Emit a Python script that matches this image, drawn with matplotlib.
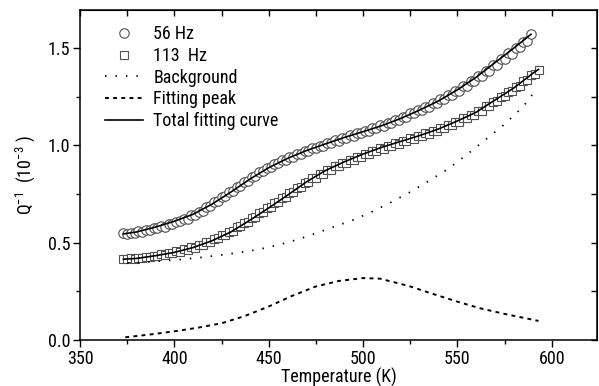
import matplotlib
matplotlib.use("Agg")
import matplotlib.pyplot as plt
from matplotlib.ticker import MultipleLocator, FormatStrFormatter
from matplotlib import font_manager

# ---------------- data ----------------
T56 = [373, 375, 377, 379, 381, 383, 385, 387, 389, 391, 393, 395, 397, 399, 401, 403,
       405, 407, 409, 411, 413, 415, 417, 419, 421, 423, 425, 427, 429, 431, 433, 435,
       437, 439, 441, 443, 445, 447, 449, 451, 453, 455, 457, 459, 461, 463, 465, 467,
       469, 471, 473, 475, 477, 479, 481, 483, 485, 487, 489, 491, 493, 495, 497, 499,
       501, 503, 505, 507, 509, 511, 513, 515, 517, 519, 521, 523, 525, 527, 529, 531,
       533, 535, 537, 539, 541, 543, 545, 547, 549, 551, 553, 555, 557, 559, 561, 563,
       565, 567, 569, 571, 573, 575, 577, 579, 581, 583, 585, 587, 589]
Q56 = [.549, .544, .551, .549, .558, .556, .564, .563, .573, .573, .584, .582, .595, .595,
       .608, .609, .623, .624, .640, .643, .660, .663, .683, .688, .708, .713, .734, .740,
       .760, .765, .787, .792, .813, .818, .839, .843, .862, .866, .885, .887, .905, .907,
       .923, .925, .941, .941, .956, .957, .971, .972, .985, .985, .999, .998, 1.012, 1.011,
       1.025, 1.024, 1.038, 1.037, 1.051, 1.050, 1.064, 1.062, 1.076, 1.075, 1.089, 1.088,
       1.102, 1.101, 1.116, 1.115, 1.131, 1.131, 1.147, 1.147, 1.164, 1.164, 1.181, 1.181,
       1.199, 1.199, 1.217, 1.217, 1.237, 1.236, 1.257, 1.257, 1.280, 1.280, 1.304, 1.303,
       1.328, 1.328, 1.354, 1.354, 1.384, 1.382, 1.412, 1.412, 1.442, 1.441, 1.472, 1.471,
       1.502, 1.503, 1.533, 1.536, 1.570]

T113 = [373, 375, 377, 379, 381, 383, 385, 387, 389, 391, 393, 395, 397, 399, 401, 403,
        405, 407, 409, 411, 413, 415, 417, 419, 421, 423, 425, 427, 429, 431, 433, 435,
        437, 439, 441, 443, 445, 447, 449, 451, 453, 455, 457, 459, 461, 463, 465, 467,
        469, 471, 473, 475, 477, 479, 481, 483, 485, 487, 489, 491, 493, 495, 497, 499,
        501, 503, 505, 507, 509, 511, 513, 515, 517, 519, 521, 523, 525, 527, 529, 531,
        533, 535, 537, 539, 541, 543, 545, 547, 549, 551, 553, 555, 557, 559, 561, 563,
        565, 567, 569, 571, 573, 575, 577, 579, 581, 583, 585, 587, 589, 591, 593]
Q113 = [.418, .414, .419, .417, .423, .420, .427, .424, .433, .430, .440, .437, .447, .445,
        .455, .453, .465, .463, .476, .475, .489, .489, .504, .504, .520, .522, .538, .541,
        .557, .561, .580, .584, .603, .608, .627, .632, .652, .657, .677, .682, .703, .707,
        .729, .733, .756, .759, .782, .785, .808, .810, .832, .833, .854, .854, .874, .874,
        .893, .892, .910, .909, .926, .925, .942, .941, .957, .956, .971, .970, .985, .983,
        .998, .996, 1.011, 1.009, 1.024, 1.022, 1.037, 1.034, 1.049, 1.047, 1.062, 1.060,
        1.076, 1.074, 1.090, 1.089, 1.106, 1.105, 1.122, 1.122, 1.139, 1.139, 1.157, 1.157,
        1.177, 1.178, 1.200, 1.201, 1.225, 1.226, 1.250, 1.251, 1.275, 1.277, 1.302, 1.304,
        1.330, 1.333, 1.360, 1.367, 1.388]

fit56_T = [373, 380, 390, 400, 410, 420, 430, 440, 450, 460, 470, 480, 490, 500, 510, 520,
           530, 540, 550, 560, 570, 580, 589]
fit56_Q = [.545, .555, .580, .610, .646, .698, .760, .826, .885, .933, .973, 1.007, 1.040,
           1.070, 1.101, 1.138, 1.181, 1.228, 1.285, 1.350, 1.425, 1.500, 1.570]

fit113_T = [373, 380, 390, 400, 410, 420, 430, 440, 450, 460, 470, 480, 490, 500, 510, 520,
            530, 540, 550, 560, 570, 580, 590, 593]
fit113_Q = [.415, .419, .433, .450, .475, .510, .555, .615, .678, .744, .812, .870, .915,
            .955, .990, 1.020, 1.050, 1.084, 1.125, 1.170, 1.233, 1.295, 1.370, 1.390]

bg_T = [375, 385, 395, 405, 415, 425, 435, 445, 455, 465, 475, 485, 495, 505, 515, 525,
        535, 545, 555, 565, 575, 585, 592]
bg_Q = [.395, .400, .407, .415, .425, .437, .450, .466, .488, .515, .548, .583, .617, .660,
        .708, .760, .818, .878, .952, 1.030, 1.108, 1.200, 1.290]

peak_T = [374, 387, 401, 413, 425, 437, 450, 462, 475, 487, 500, 509, 518, 525, 536, 550,
          562, 575, 593]
peak_Q = [.014, .028, .046, .064, .086, .122, .172, .225, .275, .303, .318, .315, .293,
          .275, .240, .197, .163, .134, .098]

labels = ["56 Hz", "113  Hz", "Background", "Fitting peak", "Total fitting curve"]
x_label = "Temperature (K)"
y_label = "Q$^{-1}$  (10$^{-3}$ )"

# ---------------- font: prefer a narrow sans ----------------
best = None
best_score = -1
prio = ["liberation sans narrow", "arimo", "roboto", "open sans", "noto sans", "dejavu",
        "lato", "inter"]
for f in font_manager.fontManager.ttflist:
    key = (f.name + " " + f.fname).lower()
    narrow = ("narrow" in key or "condensed" in key or
              f.stretch in ("condensed", "semi-condensed"))
    if not narrow or f.style != "normal" or f.weight not in (400, "normal", "regular"):
        continue
    sc = 1 if "semi" in key else 2
    for i, p in enumerate(prio):
        if p in key:
            sc += (len(prio) - i) * 10
            break
    if sc > best_score:
        best, best_score = f, sc

if best is not None:
    fam, stretch = best.name, best.stretch
else:
    fam, stretch = "Liberation Sans", "normal"
plt.rcParams["font.family"] = [fam, "DejaVu Sans"]
plt.rcParams["font.stretch"] = stretch
plt.rcParams["mathtext.fontset"] = "custom"
plt.rcParams["mathtext.rm"] = f"{fam}:stretch={stretch}"
plt.rcParams["mathtext.it"] = f"{fam}:stretch={stretch}"

fs = 13 if best is not None else 11.5

fig = plt.figure(figsize=(5.99, 3.86), dpi=100)
ax = fig.add_axes([80 / 599, 46 / 386, 517 / 599, 330 / 386])

edge = "#505050"
h56, = ax.plot(T56, Q56, ls="none", marker="o", ms=6.8, mfc="white", mec=edge, mew=0.8)
h113, = ax.plot(T113, Q113, ls="none", marker="s", ms=6.3, mfc="white", mec=edge, mew=0.8)
hbg, = ax.plot(bg_T, bg_Q, color="black", lw=1.3, ls=(0, (0.8, 5.0)))
hpk, = ax.plot(peak_T, peak_Q, color="black", lw=1.4, ls=(0, (2.0, 2.2)))
hfit, = ax.plot(fit56_T, fit56_Q, color="black", lw=1.2)
ax.plot(fit113_T, fit113_Q, color="black", lw=1.2)

ax.set_xlim(350, 624)
ax.set_ylim(0, 1.695)
ax.xaxis.set_major_locator(MultipleLocator(50))
ax.xaxis.set_minor_locator(MultipleLocator(25))
ax.yaxis.set_major_locator(MultipleLocator(0.5))
ax.yaxis.set_minor_locator(MultipleLocator(0.25))
ax.yaxis.set_major_formatter(FormatStrFormatter("%.1f"))
ax.tick_params(which="major", direction="out", length=5, width=1, labelsize=fs, pad=2)
ax.tick_params(which="minor", direction="out", length=3, width=1)
for s in ax.spines.values():
    s.set_linewidth(1.1)

top = ax.secondary_xaxis("top")
top.xaxis.set_major_locator(MultipleLocator(25))
top.tick_params(direction="in", length=4, width=1, labeltop=False)
right = ax.secondary_yaxis("right")
right.yaxis.set_major_locator(MultipleLocator(0.25))
right.tick_params(direction="in", length=4, width=1, labelright=False)

ax.set_xlabel(x_label, fontsize=fs, labelpad=0)
ax.set_ylabel(y_label, fontsize=fs, labelpad=8)

leg = ax.legend([h56, h113, hbg, hpk, hfit], labels, loc="upper left",
                bbox_to_anchor=(0.035, 0.975), frameon=False, fontsize=fs,
                handlelength=2.1, handletextpad=0.55, labelspacing=0.2,
                borderaxespad=0.0)

fig.savefig("out.png", dpi=100)
